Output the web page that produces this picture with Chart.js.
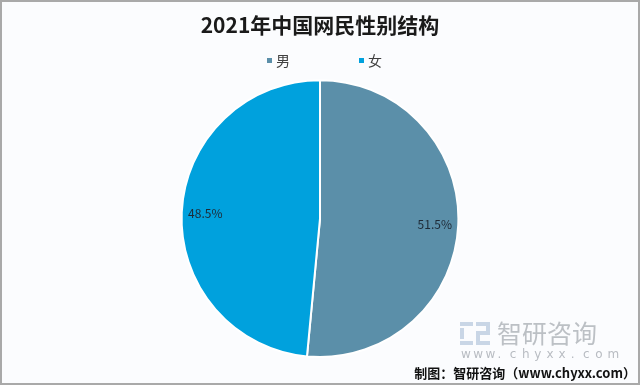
<!DOCTYPE html>
<html>
<head>
<meta charset="utf-8">
<script src="https://cdn.jsdelivr.net/npm/chart.js@4.4.0/dist/chart.umd.min.js"></script>
<style>
  html, body { margin: 0; padding: 0; background: #fff; }
  #wrap { width: 640px; height: 385px; }
</style>
</head>
<body>
<div id="wrap"><canvas id="pie"></canvas></div>
<script>
const chartTitle = '2021年中国网民性别结构';
const categories = ['男', '女'];
const shares     = [51.5, 48.5];
const colors     = ['#5b8fa9', '#00a1dd'];
const sourceNote = '制图：智研咨询（www.chyxx.com）';

const CJK = '"Noto Sans CJK SC", "Noto Sans", sans-serif';

// frame + background behind everything
const framePlugin = {
  id: 'frame',
  beforeDraw(chart) {
    const c = chart.ctx;
    c.save();
    c.fillStyle = '#fbfcfe';
    c.fillRect(0, 0, chart.width, chart.height);
    c.strokeStyle = '#a9a9a9';
    c.lineWidth = 2;
    c.strokeRect(1, 1, chart.width - 2, chart.height - 2);
    c.restore();
  }
};

// percent labels inside the slices
const sliceLabels = {
  id: 'sliceLabels',
  afterDatasetsDraw(chart) {
    const c = chart.ctx;
    const meta = chart.getDatasetMeta(0);
    c.save();
    c.font = '12px ' + CJK;
    c.fillStyle = '#1e2a36';
    c.textAlign = 'center';
    c.textBaseline = 'middle';
    meta.data.forEach((arc, i) => {
      const mid = (arc.startAngle + arc.endAngle) / 2;
      const r = arc.outerRadius * 0.83;
      c.fillText(shares[i].toFixed(1) + '%', arc.x + Math.cos(mid) * r, arc.y + Math.sin(mid) * r);
    });
    c.restore();
  }
};

// small square legend under the title
const squareLegend = {
  id: 'squareLegend',
  afterDraw(chart) {
    const c = chart.ctx;
    const xs = [267, 359];
    c.save();
    c.font = '14px ' + CJK;
    c.textBaseline = 'middle';
    categories.forEach((name, i) => {
      c.fillStyle = colors[i];
      c.fillRect(xs[i], 58, 5, 5);
      c.fillStyle = '#404040';
      c.fillText(name, xs[i] + 9, 61);
    });
    c.restore();
  }
};

// watermark + source line
const sourcePlugin = {
  id: 'source',
  afterDraw(chart) {
    const c = chart.ctx;
    c.save();
    // logo blocks
    c.fillStyle = '#c9d6e6';
    c.fillRect(460, 322, 13, 4);
    c.fillRect(460, 328, 4, 11);
    c.fillRect(460, 341, 13, 4);
    c.fillRect(476, 322, 14, 4);
    c.fillRect(486, 322, 4, 11);
    c.fillRect(476, 331, 14, 4);
    c.fillRect(476, 335, 4, 10);
    c.fillRect(476, 341, 14, 4);
    c.fillStyle = '#bcc0c5';
    c.font = '25px ' + CJK;
    c.textBaseline = 'middle';
    c.textAlign = 'left';
    c.fillText('智研咨询', 497, 333);
    c.font = '12px "DejaVu Sans", sans-serif';
    c.fillStyle = '#b8bcc2';
    'www.chyxx.com'.split('').forEach((ch, i) => {
      c.fillText(ch, 461 + i * 12.2, 355);
    });
    c.fillStyle = '#111';
    c.font = 'bold 13px ' + CJK;
    c.textAlign = 'right';
    c.fillText(sourceNote, 636, 373);
    c.restore();
  }
};

new Chart(document.getElementById('pie'), {
  type: 'pie',
  data: {
    labels: categories,
    datasets: [{
      data: shares,
      backgroundColor: colors,
      borderColor: '#ffffff',
      borderWidth: 2,
      hoverOffset: 0
    }]
  },
  options: {
    responsive: true,
    maintainAspectRatio: false,
    animation: false,
    layout: { padding: { top: 0, bottom: 27, left: 0, right: 0 } },
    plugins: {
      legend: { display: false },
      tooltip: { enabled: false },
      title: {
        display: true,
        text: chartTitle,
        color: '#1a1a1a',
        font: { size: 21, weight: 'bold', family: CJK, lineHeight: 1.2 },
        padding: { top: 12, bottom: 42 }
      }
    }
  },
  plugins: [framePlugin, sliceLabels, squareLegend, sourcePlugin]
});
</script>
</body>
</html>
